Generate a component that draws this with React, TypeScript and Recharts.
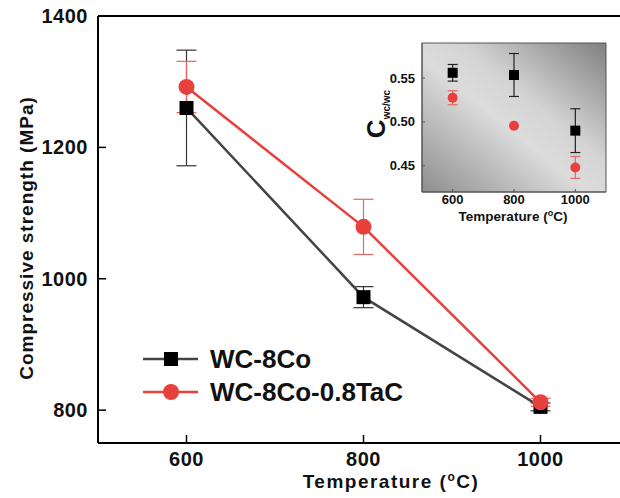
import React from 'react'
import { LineChart, Line, XAxis, YAxis, ErrorBar, ReferenceLine, ReferenceArea } from 'recharts'

const temps = [600, 800, 1000]
const wcCo = [1260, 972, 805]
const wcCoErr = [88, 16, 6]
const wcCoTaC = [1292, 1079, 812]
const wcCoTaCErr = [39, 42, 6]

const insetWcCo = [0.556, 0.5535, 0.49]
const insetWcCoErr = [0.0095, 0.0245, 0.025]
const insetTaC = [0.5275, 0.4955, 0.448]
const insetTaCErr = [0.008, 0, 0.0125]

const mainTicksY = [800, 1000, 1200, 1400]
const tempTicks = [600, 800, 1000]
const insetTicksY = [0.45, 0.5, 0.55]
const seriesNames = ['WC-8Co', 'WC-8Co-0.8TaC']

const RED = '#e8403d'
const FONT = '"Liberation Sans", Arial, sans-serif'

const mainData = temps.map((t, i) => ({
  t,
  a: wcCo[i],
  aErr: wcCoErr[i],
  b: wcCoTaC[i],
  bErr: wcCoTaCErr[i],
}))

const insetData = temps.map((t, i) => ({
  t,
  a: insetWcCo[i],
  aErr: insetWcCoErr[i],
  b: insetTaC[i],
  bErr: insetTaCErr[i],
}))

const Square = (props: any) => {
  const { cx, cy, size } = props
  if (cx == null || cy == null) return null
  return <rect x={cx - size / 2} y={cy - size / 2} width={size} height={size} fill="#000" />
}

const Dot = (props: any) => {
  const { cx, cy, r } = props
  if (cx == null || cy == null) return null
  return <circle cx={cx} cy={cy} r={r} fill={RED} />
}

const tickStyle = { fontSize: 20, fontWeight: 700, fill: '#111', fontFamily: FONT, letterSpacing: 0.5 }
const insetTickStyle = { fontSize: 13, fontWeight: 700, fill: '#111', fontFamily: FONT }

function MainLegend() {
  const colors = ['#444', RED]
  return (
    <svg width={300} height={70} style={{ display: 'block' }}>
      {seriesNames.map((name, i) => {
        const y = 15 + i * 33
        return (
          <g key={name}>
            <line x1={5} x2={60} y1={y} y2={y} stroke={colors[i]} strokeWidth={2.5} />
            {i === 0 ? (
              <rect x={26} y={y - 7} width={14} height={14} fill="#000" />
            ) : (
              <circle cx={33} cy={y} r={8} fill={RED} />
            )}
            <text x={72} y={y + 9} fontSize={26} fontWeight={700} fontFamily={FONT} fill="#111">
              {name}
            </text>
          </g>
        )
      })}
    </svg>
  )
}

export default function App() {
  return (
    <div style={{ position: 'absolute', left: 0, top: 0, width: 620, height: 498, overflow: 'hidden', background: '#fff' }}>
      <LineChart width={640} height={498} data={mainData} margin={{ top: 16, right: 11, bottom: 0, left: 0 }}>
        <XAxis
          dataKey="t"
          type="number"
          domain={[500, 1100]}
          ticks={tempTicks}
          height={55}
          tickSize={-8}
          tickMargin={17}
          tick={tickStyle}
          axisLine={{ stroke: '#000', strokeWidth: 2 }}
          tickLine={{ stroke: '#000', strokeWidth: 1.5 }}
          label={{
            content: () => (
              <text x={391} y={488} textAnchor="middle" fontSize={19} fontWeight={700} fontFamily={FONT} fill="#111" letterSpacing={1.5}>
                Temperature (<tspan fontSize={12} dy={-7}>o</tspan>
                <tspan dy={7}>C)</tspan>
              </text>
            ),
          }}
        />
        <YAxis
          type="number"
          domain={[750, 1400]}
          ticks={mainTicksY}
          width={98}
          tickSize={-8}
          tickMargin={18}
          tick={tickStyle}
          axisLine={{ stroke: '#000', strokeWidth: 2 }}
          tickLine={{ stroke: '#000', strokeWidth: 1.5 }}
          label={{
            content: () => (
              <text
                x={28}
                y={238}
                transform="rotate(-90 28 238)"
                textAnchor="middle"
                dominantBaseline="middle"
                fontSize={19}
                fontWeight={700}
                fontFamily={FONT}
                fill="#111"
                letterSpacing={1}
              >
                Compressive strength (MPa)
              </text>
            ),
          }}
        />
        <ReferenceLine y={1400} stroke="#000" strokeWidth={2} />
        <Line
          dataKey="a"
          stroke="#444"
          strokeWidth={2.5}
          isAnimationActive={false}
          dot={(p: any) => <Square key={'a' + p.index} {...p} size={14} />}
        >
          <ErrorBar dataKey="aErr" width={10} stroke="#333" strokeWidth={1.2} />
        </Line>
        <Line
          dataKey="b"
          stroke={RED}
          strokeWidth={2.5}
          isAnimationActive={false}
          dot={(p: any) => <Dot key={'b' + p.index} {...p} r={8} />}
        >
          <ErrorBar dataKey="bErr" width={10} stroke="#e26a66" strokeWidth={1.2} />
        </Line>
      </LineChart>

      <div style={{ position: 'absolute', left: 138, top: 344 }}>
        <MainLegend />
      </div>

      <div style={{ position: 'absolute', left: 350, top: 30 }}>
        <LineChart width={270} height={200} data={insetData} margin={{ top: 13, right: 14, bottom: 0, left: 0 }}>
          <defs>
            <linearGradient id="insetBg" x1="0" y1="1" x2="1" y2="0">
              <stop offset="0%" stopColor="#8e8e8e" />
              <stop offset="45%" stopColor="#dcdcdc" />
              <stop offset="60%" stopColor="#d4d4d4" />
              <stop offset="100%" stopColor="#808080" />
            </linearGradient>
          </defs>
          <XAxis
            dataKey="t"
            type="number"
            domain={[500, 1100]}
            ticks={tempTicks}
            height={38}
            tickSize={-3}
            tickMargin={6}
            tick={insetTickStyle}
            axisLine={{ stroke: '#555', strokeWidth: 1 }}
            tickLine={{ stroke: '#555' }}
            label={{
              content: () => (
                <text x={163} y={191} textAnchor="middle" fontSize={13.5} fontWeight={700} fontFamily={FONT} fill="#111">
                  Temperature (<tspan fontSize={9} dy={-5}>o</tspan>
                  <tspan dy={5}>C)</tspan>
                </text>
              ),
            }}
          />
          <YAxis
            type="number"
            domain={[0.42, 0.59]}
            ticks={insetTicksY}
            tickFormatter={(v: number) => v.toFixed(2)}
            width={72}
            tickSize={-3}
            tickMargin={10}
            tick={insetTickStyle}
            axisLine={{ stroke: '#555', strokeWidth: 1 }}
            tickLine={{ stroke: '#555' }}
            label={{
              content: () => (
                <text
                  x={35}
                  y={84}
                  transform="rotate(-90 35 84)"
                  textAnchor="middle"
                  fontWeight={700}
                  fontFamily={FONT}
                  fill="#111"
                >
                  <tspan fontSize={26}>C</tspan>
                  <tspan fontSize={10} dy={5}>wc/wc</tspan>
                </text>
              ),
            }}
          />
          <ReferenceArea
            x1={500}
            x2={1100}
            y1={0.42}
            y2={0.59}
            fill="url(#insetBg)"
            fillOpacity={1}
            stroke="#555"
            strokeWidth={1}
          />
          <Line
            dataKey="a"
            stroke="none"
            isAnimationActive={false}
            dot={(p: any) => <Square key={'ia' + p.index} {...p} size={10} />}
          >
            <ErrorBar dataKey="aErr" width={5} stroke="#222" strokeWidth={1.2} />
          </Line>
          <Line
            dataKey="b"
            stroke="none"
            isAnimationActive={false}
            dot={(p: any) => <Dot key={'ib' + p.index} {...p} r={5} />}
          >
            <ErrorBar dataKey="bErr" width={5} stroke="#e26a66" strokeWidth={1.2} />
          </Line>
        </LineChart>
      </div>
    </div>
  )
}
